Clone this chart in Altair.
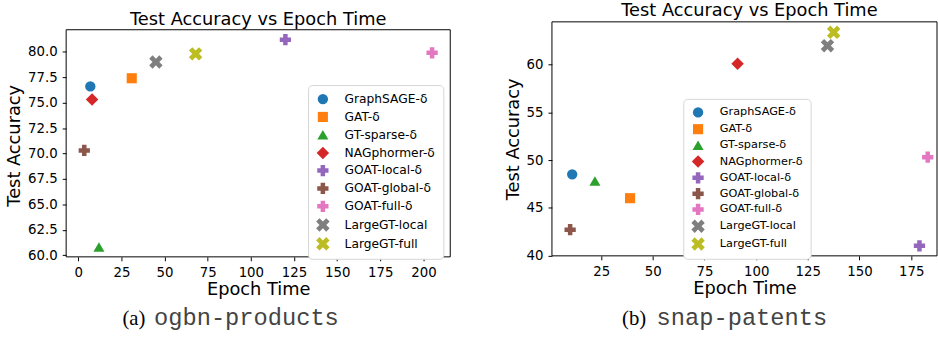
import altair as alt
import pandas as pd

methods = ["GraphSAGE-δ", "GAT-δ", "GT-sparse-δ", "NAGphormer-δ", "GOAT-local-δ",
           "GOAT-global-δ", "GOAT-full-δ", "LargeGT-local", "LargeGT-full"]

products_time = [7, 31, 12, 8, 120, 3.5, 205, 45, 68]
products_acc = [76.6, 77.4, 60.8, 75.3, 81.2, 70.3, 79.9, 79.0, 79.8]

patents_time = [11, 39, 22, 91, 179, 10, 183, 134.5, 137.5]
patents_acc = [48.5, 46.0, 47.8, 60.1, 41.0, 42.7, 50.3, 62.0, 63.4]

products_xticks = [0, 25, 50, 75, 100, 125, 150, 175, 200]
products_yticks = [60.0, 62.5, 65.0, 67.5, 70.0, 72.5, 75.0, 77.5, 80.0]
patents_xticks = [25, 50, 75, 100, 125, 150, 175]
patents_yticks = [40, 45, 50, 55, 60]

chart_title = "Test Accuracy vs Epoch Time"
x_title = "Epoch Time"
y_title = "Test Accuracy"
caption_a = ["(a)", "ogbn-products"]
caption_b = ["(b)", "snap-patents"]

X_PATH = ("M-1,-0.5 L-0.5,-1 L0,-0.5 L0.5,-1 L1,-0.5 L0.5,0 L1,0.5 L0.5,1 "
          "L0,0.5 L-0.5,1 L-1,0.5 L-0.5,0 Z")
colors = ["#1f77b4", "#ff7f0e", "#2ca02c", "#d62728", "#9467bd",
          "#8c564b", "#e377c2", "#7f7f7f", "#bcbd22"]
shapes = ["circle", "square", "triangle-up", "diamond", "cross", "cross", "cross",
          X_PATH, X_PATH]
sizes = [110, 105, 125, 160, 130, 130, 130, 185, 185]


def panel(times, accs, xdom, ydom, xticks, yticks, yfmt, w, h, lx, ly, lfs,
          rowpad, cap, capx, capy, title_dx, title_dy, ytitle_y, frame_top):
    df = pd.DataFrame({"method": methods, "time": times, "acc": accs})
    legend = alt.Legend(orient="none", legendX=lx, legendY=ly, labelFontSize=lfs,
                        labelFont="DejaVu Sans", labelColor="black",
                        rowPadding=rowpad, padding=8, strokeColor="#d5d5d5",
                        fillColor="white", cornerRadius=4, labelOffset=15,
                        symbolStrokeWidth=0, symbolOpacity=1)
    pts = alt.Chart(df).mark_point(filled=True, opacity=1, strokeWidth=0).encode(
        x=alt.X("time:Q", title=x_title,
                scale=alt.Scale(domain=xdom, nice=False, zero=False),
                axis=alt.Axis(values=xticks, format="d", titlePadding=2)),
        y=alt.Y("acc:Q", title=y_title,
                scale=alt.Scale(domain=ydom, nice=False, zero=False),
                axis=alt.Axis(values=yticks, format=yfmt, titleY=ytitle_y,
                              titlePadding=4)),
        color=alt.Color("method:N", title=None,
                        scale=alt.Scale(domain=methods, range=colors), legend=legend),
        shape=alt.Shape("method:N", title=None,
                        scale=alt.Scale(domain=methods, range=shapes), legend=legend),
        size=alt.Size("method:N", title=None,
                      scale=alt.Scale(type="ordinal", domain=methods, range=sizes),
                      legend=legend),
    )
    frame = alt.Chart(pd.DataFrame({"f": [0]})).mark_rect(
        filled=False, stroke="black", strokeWidth=1).encode(
        x=alt.value(0), x2=alt.value(w), y=alt.value(frame_top), y2=alt.value(h))
    c1 = alt.Chart(pd.DataFrame({"t": [cap[0]]})).mark_text(
        font="Liberation Serif", fontSize=21, align="left", baseline="alphabetic",
        color="black").encode(text="t:N", x=alt.value(capx[0]), y=alt.value(capy))
    c2 = alt.Chart(pd.DataFrame({"t": [cap[1]]})).mark_text(
        font="Liberation Mono", fontSize=24, align="left", baseline="alphabetic",
        color="#444444").encode(text="t:N", x=alt.value(capx[1]), y=alt.value(capy))
    return alt.layer(frame, pts, c1, c2).properties(
        width=w, height=h,
        view=alt.ViewBackground(stroke="transparent"),
        title=alt.TitleParams(chart_title, fontSize=18, font="DejaVu Sans",
                              fontWeight="normal", offset=1, anchor="middle",
                              dx=title_dx, dy=title_dy, color="black"),
    )


# panel (a): plot area drawn 8 px below the shared top, frame from there
pa = panel(products_time, products_acc, [-7, 215.5], [59.83, 82.95],
           products_xticks, products_yticks, ".1f", 389, 238, 245, 64, 12.4, 5.1,
           caption_a, [57, 89], 307, 0, 8, 125, 8)
pb = panel(patents_time, patents_acc, [1.2, 187.5], [39.95, 64.5],
           patents_xticks, patents_yticks, "d", 390, 237, 133, 78, 11.4, 4.0,
           caption_b, [71, 106], 307, 5, 0, 118.5, 0)

chart = alt.hconcat(pa, pb, spacing=53).resolve_scale(
    color="independent", shape="independent", size="independent"
).resolve_legend(color="independent", shape="independent", size="independent"
).properties(padding={"left": 5, "top": 0, "right": 0, "bottom": 0},
             background="white"
).configure_axis(
    labelFont="DejaVu Sans", labelFontSize=13.5, labelColor="black",
    titleFont="DejaVu Sans", titleFontSize=18, titleFontWeight="normal",
    titleColor="black", tickColor="black", tickSize=4, domain=False, grid=False,
    labelPadding=5
)

chart.save("out.html", embed_options={"renderer": "svg", "actions": False})
